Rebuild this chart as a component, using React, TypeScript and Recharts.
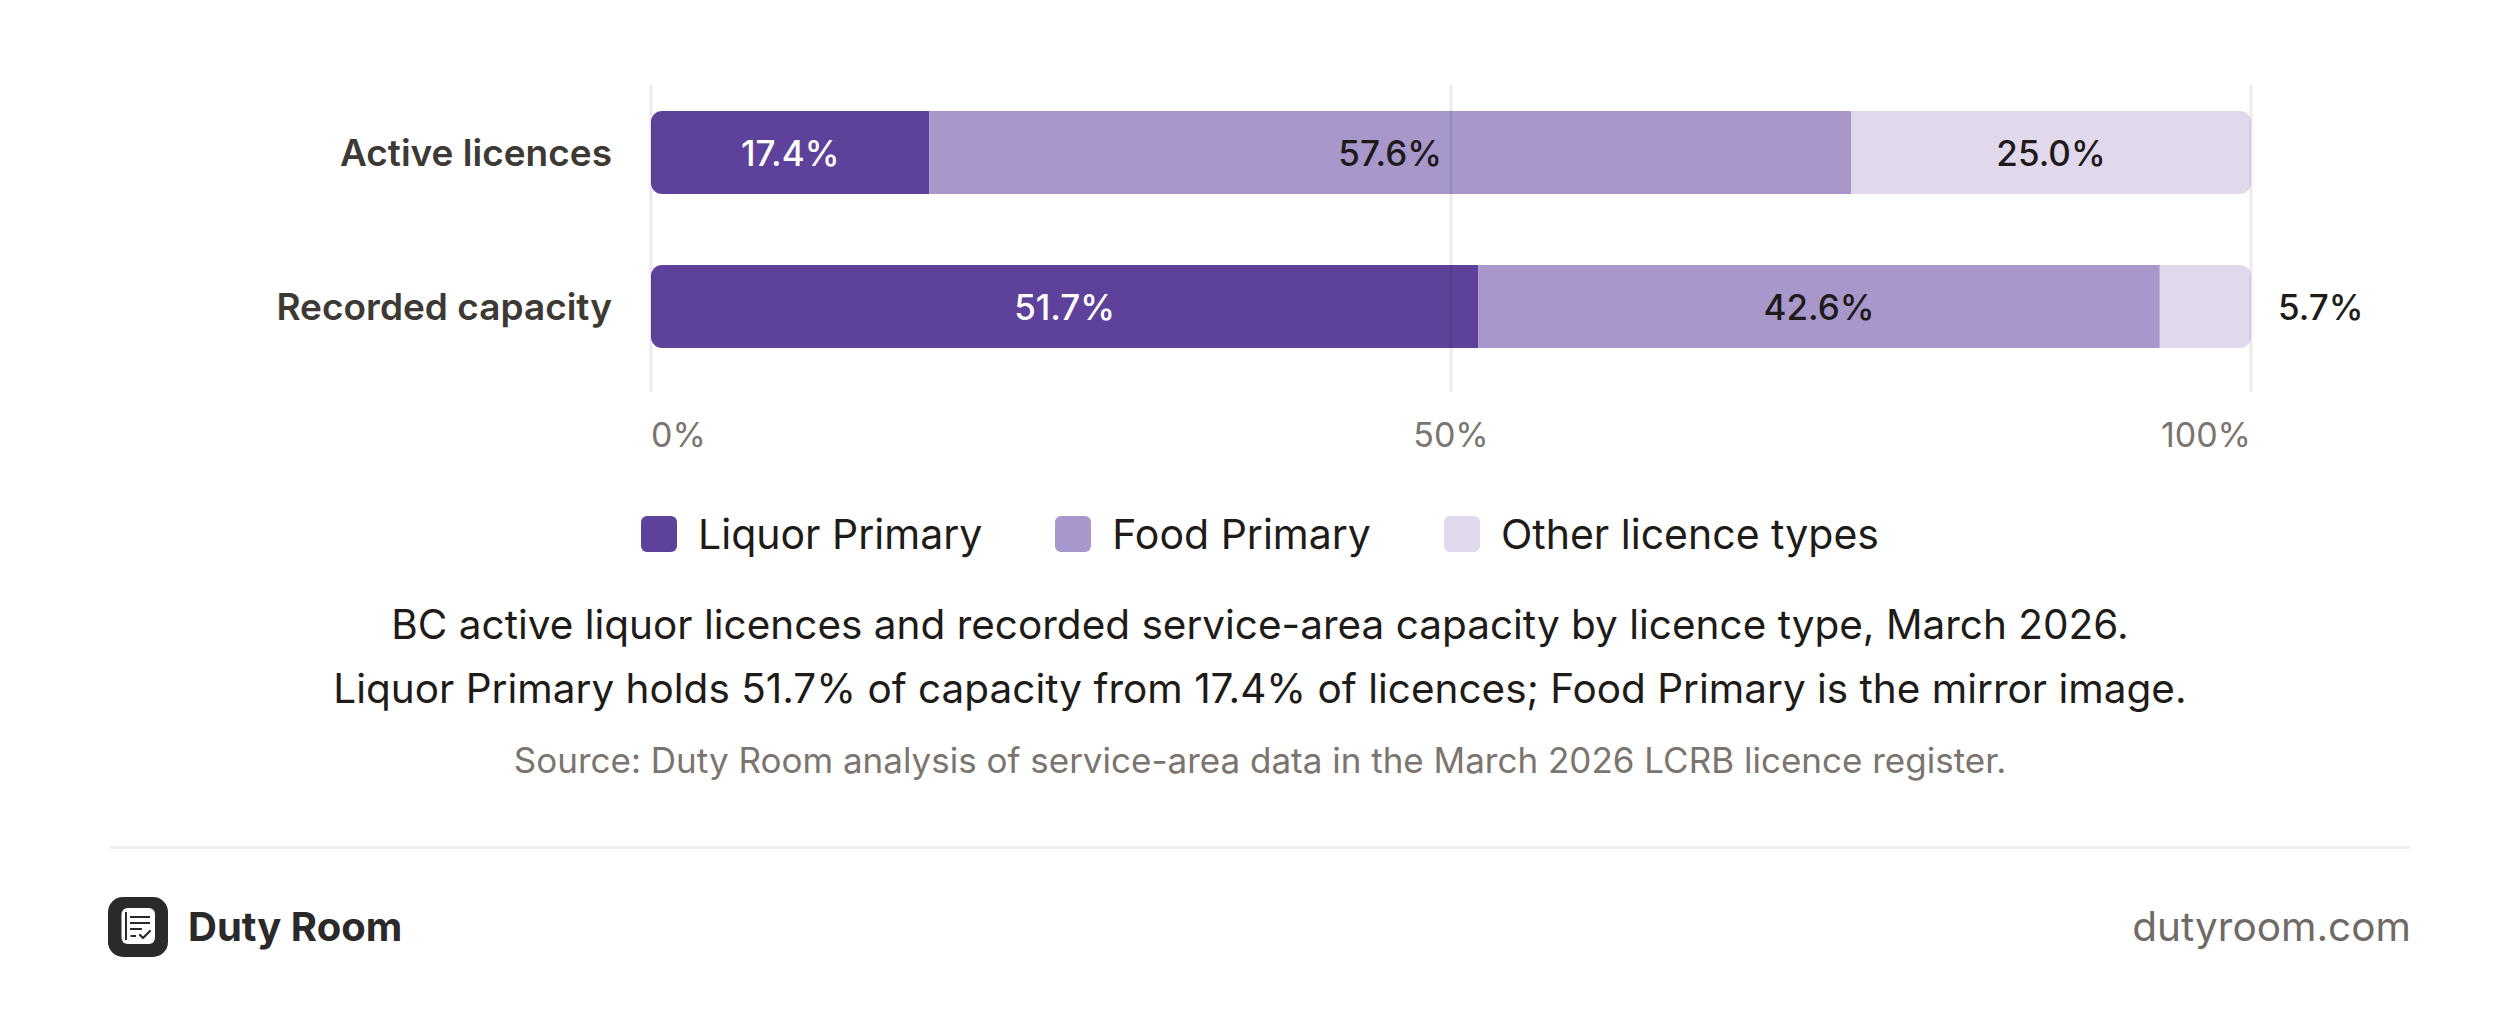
import React from "react";
import { BarChart, Bar, XAxis, YAxis, ReferenceLine, LabelList } from "recharts";

const categories = ["Active licences", "Recorded capacity"];
const liquorPrimary = [17.4, 51.7];
const foodPrimary = [57.6, 42.6];
const otherTypes = [25.0, 5.7];
const xTicks = [0, 50, 100];
const seriesNames = ["Liquor Primary", "Food Primary", "Other licence types"];
const seriesKeys = ["liquor", "food", "other"];
const seriesColors = ["#5e419b", "#a797ca", "#e0d9ec"];
const labelColors = ["#ffffff", "#1f1b1b", "#1f1b1b"];

const captionLines = [
  "BC active liquor licences and recorded service-area capacity by licence type, March 2026.",
  "Liquor Primary holds 51.7% of capacity from 17.4% of licences; Food Primary is the mirror image.",
];
const sourceText = "Source: Duty Room analysis of service-area data in the March 2026 LCRB licence register.";

const data = categories.map((name, i) => ({
  name,
  liquor: liquorPrimary[i],
  food: foodPrimary[i],
  other: otherTypes[i],
}));

const FONT = "Inter, 'Noto Sans', sans-serif";

const YTick = (props: any) => {
  const { y, payload } = props;
  return (
    <text x={612} y={y} textAnchor="end" dominantBaseline="central" fontFamily={FONT} fontSize={37} fontWeight={600} fill="#3d3934">
      {payload.value}
    </text>
  );
};

const XTick = (props: any) => {
  const { x, payload } = props;
  const v = payload.value;
  const anchor = v === xTicks[0] ? "start" : v === xTicks[xTicks.length - 1] ? "end" : "middle";
  return (
    <text x={x} y={434} textAnchor={anchor} dominantBaseline="central" fontFamily={FONT} fontSize={34} fill="#7b746f">
      {v}%
    </text>
  );
};

const makeLabel = (idx: number) => (props: any) => {
  const { x, y, width, height, value } = props;
  const txt = `${Number(value).toFixed(1)}%`;
  const outside = value < 10;
  return (
    <text
      x={outside ? x + width + 27 : x + width / 2}
      y={y + height / 2}
      textAnchor={outside ? "start" : "middle"}
      dominantBaseline="central"
      fontFamily={FONT}
      fontSize={35}
      fontWeight={500}
      fill={outside ? "#1f1b1b" : labelColors[idx]}
    >
      {txt}
    </text>
  );
};

const GridShape = (props: any) => (
  <line x1={props.x1} x2={props.x2} y1={85} y2={392} stroke="#000" strokeOpacity={0.08} strokeWidth={3} />
);

const radii: any[] = [[11, 0, 0, 11], [0, 0, 0, 0], [0, 11, 11, 0]];

const Logo = () => (
  <svg width={60} height={60} viewBox="0 0 60 60" style={{ position: "absolute", left: 108, top: 897 }}>
    <rect x={0} y={0} width={60} height={60} rx={15} fill="#2b2929" />
    <rect x={13.5} y={11} width={33.5} height={36} rx={6} fill="#ffffff" />
    <line x1={18} y1={15} x2={18} y2={43} stroke="#2b2929" strokeWidth={2} />
    <line x1={22} y1={20} x2={42} y2={20} stroke="#2b2929" strokeWidth={2} />
    <line x1={22} y1={26} x2={42} y2={26} stroke="#2b2929" strokeWidth={2} />
    <line x1={22} y1={32} x2={34} y2={32} stroke="#2b2929" strokeWidth={2} />
    <line x1={22.5} y1={39} x2={28} y2={39} stroke="#2b2929" strokeWidth={2} />
    <polyline points="32,38 35,41 42,34" fill="none" stroke="#2b2929" strokeWidth={2.2} strokeLinecap="round" strokeLinejoin="round" />
  </svg>
);

export default function App() {
  return (
    <div style={{ position: "absolute", left: 0, top: 0, width: 2520, height: 1017, background: "#ffffff", fontFamily: FONT, overflow: "hidden" }}>
      <div style={{ position: "absolute", left: 0, top: 0 }}>
        <BarChart
          width={2520}
          height={460}
          data={data}
          layout="vertical"
          margin={{ top: 75, right: 269, bottom: 0, left: 0 }}
          barSize={83}
        >
          <XAxis type="number" domain={[0, 100]} ticks={xTicks} axisLine={false} tickLine={false} height={77} tick={<XTick />} interval={0} />
          <YAxis type="category" dataKey="name" width={651} axisLine={false} tickLine={false} tick={<YTick />} />
          {seriesKeys.map((k, i) => (
            <Bar key={k} dataKey={k} name={seriesNames[i]} stackId="a" fill={seriesColors[i]} radius={radii[i]} isAnimationActive={false}>
              <LabelList dataKey={k} content={makeLabel(i)} />
            </Bar>
          ))}
          {xTicks.map((t) => (
            <ReferenceLine key={t} x={t} shape={GridShape} />
          ))}
        </BarChart>
      </div>

      <div style={{ position: "absolute", left: 0, width: 2520, top: 508, height: 52, display: "flex", justifyContent: "center", alignItems: "center", gap: 73 }}>
        {seriesNames.map((n, i) => (
          <div key={n} style={{ display: "flex", alignItems: "center", gap: 21 }}>
            <div style={{ width: 36, height: 36, borderRadius: 6, background: seriesColors[i] }} />
            <span style={{ fontSize: 41, color: "#1e1b18", lineHeight: "52px" }}>{n}</span>
          </div>
        ))}
      </div>

      {captionLines.map((l, i) => (
        <div key={i} style={{ position: "absolute", left: 0, width: 2520, top: 625 - 32 + i * 64, height: 64, lineHeight: "64px", textAlign: "center", fontSize: 40.5, color: "#1e1b18" }}>
          {l}
        </div>
      ))}
      <div style={{ position: "absolute", left: 0, width: 2520, top: 760 - 25, height: 50, lineHeight: "50px", textAlign: "center", fontSize: 35, color: "#7b746f" }}>
        {sourceText}
      </div>

      <div style={{ position: "absolute", left: 109, width: 2302, top: 846, height: 3, background: "#f1f0f0" }} />

      <Logo />
      <div style={{ position: "absolute", left: 188, top: 927 - 30, height: 60, lineHeight: "60px", fontSize: 40, fontWeight: 700, color: "#2b2929" }}>
        Duty Room
      </div>
      <div style={{ position: "absolute", right: 2520 - 2411, top: 927 - 30, height: 60, lineHeight: "60px", fontSize: 40.5, color: "#6f6a66" }}>
        dutyroom.com
      </div>
    </div>
  );
}
